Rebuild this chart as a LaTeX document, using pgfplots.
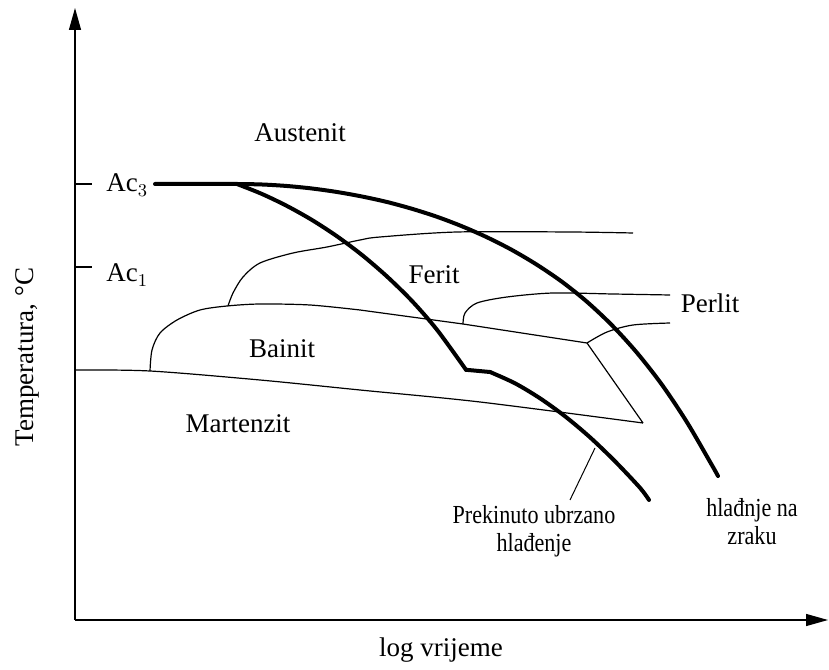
\documentclass[border=0pt]{standalone}
\usepackage{fontspec}
\setmainfont{Liberation Serif}
\newfontfamily\narrow[FakeStretch=0.85]{Liberation Serif}
\usepackage{pgfplots}
\pgfplotsset{compat=1.18}
\usetikzlibrary{arrows.meta}

% thick = cooling curves, thin = transformation boundaries
\tikzset{
  cool/.style={black, line width=2pt, line cap=round, line join=round},
  bound/.style={black, line width=0.6pt},
  lbl/.style={font=\fontsize{13.5}{16}\selectfont, inner sep=0pt},
}

\begin{document}
\begin{tikzpicture}
\begin{axis}[
    scale only axis,
    width=376.5pt, height=306pt,
    xmin=75, xmax=828, ymin=49, ymax=661,
    axis lines=left,
    axis line style={line width=0.65pt, -{Triangle[length=11pt,width=6pt]}},
    xtick=\empty,
    ytick={402,485}, yticklabels={},
    tick align=inside,
    major tick length=8.5pt,
    tick style={line width=0.65pt, black},
    clip=false,
]
% bounding box of the whole picture
\path (axis cs:0,0) rectangle (axis cs:829,669);

% martensite start line and bainite end
\addplot[bound, smooth] coordinates {
    (75,299)(150,298)(260,289)(360,279)(480,267)(643,246)
};
\addplot[bound] coordinates {(643,246)(587,326)};

% bainite nose
\addplot[bound, smooth] coordinates {
    (150,298)(152,319)(160,336)(177,349)(200,359)(227,363)(260,365)(310,364)(360,359)
};
\addplot[bound] coordinates {(360,359)(463,345)(587,326)};

% ferrite nose
\addplot[bound, smooth] coordinates {
    (228,363)(233,376)(243,392)(260,406)(293,416)(327,422)(360,429)(380,432)(457,437)(570,437)(633,436)
};

% pearlite start
\addplot[bound, smooth] coordinates {
    (463,345)(465,356)(477,366)(507,372)(553,376)(613,375)(670,374)
};
% pearlite end
\addplot[bound, smooth] coordinates {
    (587,326)(607,337)(633,344)(670,346)
};

% air cooling
\addplot[cool, smooth] coordinates {
    (155,485)(200,485)(237,485)(262,484.5)(287,483)(312,480.5)(337,477)(362,472.5)
    (387,467)(412,460.2)(437,452.2)(462,442.7)(487,431.7)(512,419)(537,404.2)
    (562,387.2)(587,367.2)(612,343.7)(637,316.2)(662,284.2)(687,246.7)(712,203.7)(718,193)
};

% interrupted accelerated cooling
\addplot[cool, smooth] coordinates {
    (237,485)(262,475)(287,463)(312,449)(337,432.7)(362,414)(387,392.5)(412,368)(437,339.2)(466,299.2)
};
\addplot[cool] coordinates {(466,299.2)(490,297)};
\addplot[cool, smooth] coordinates {
    (490,297)(515,285.7)(540,270.7)(565,252.7)(590,231.7)(615,207.7)(640,181.2)(649,169)
};

% leader line
\addplot[black, line width=0.5pt] coordinates {(595,221)(570,169)};

% labels
\node[lbl] at (axis cs:300,536) {Austenit};
\node[lbl] at (axis cs:434,394) {Ferit};
\node[lbl] at (axis cs:710,366) {Perlit};
\node[lbl] at (axis cs:282,320) {Bainit};
\node[lbl] at (axis cs:238,245) {Martenzit};
\node[lbl, anchor=base west] at (axis cs:106,477) {Ac$_3$};
\node[lbl, anchor=base west] at (axis cs:106,387) {Ac$_1$};
\node[font=\narrow\fontsize{13}{14}\selectfont, align=center, inner sep=0pt]
    at (axis cs:534,138) {Prekinuto ubrzano\\hlađenje};
\node[font=\narrow\fontsize{13}{14}\selectfont, align=center, inner sep=0pt]
    at (axis cs:752,147) {hlađnje na\\zraku};
\node[lbl, rotate=90] at (axis cs:27,312) {Temperatura, °C};
\node[lbl] at (axis cs:441,19) {log vrijeme};
\end{axis}
\end{tikzpicture}
\end{document}
